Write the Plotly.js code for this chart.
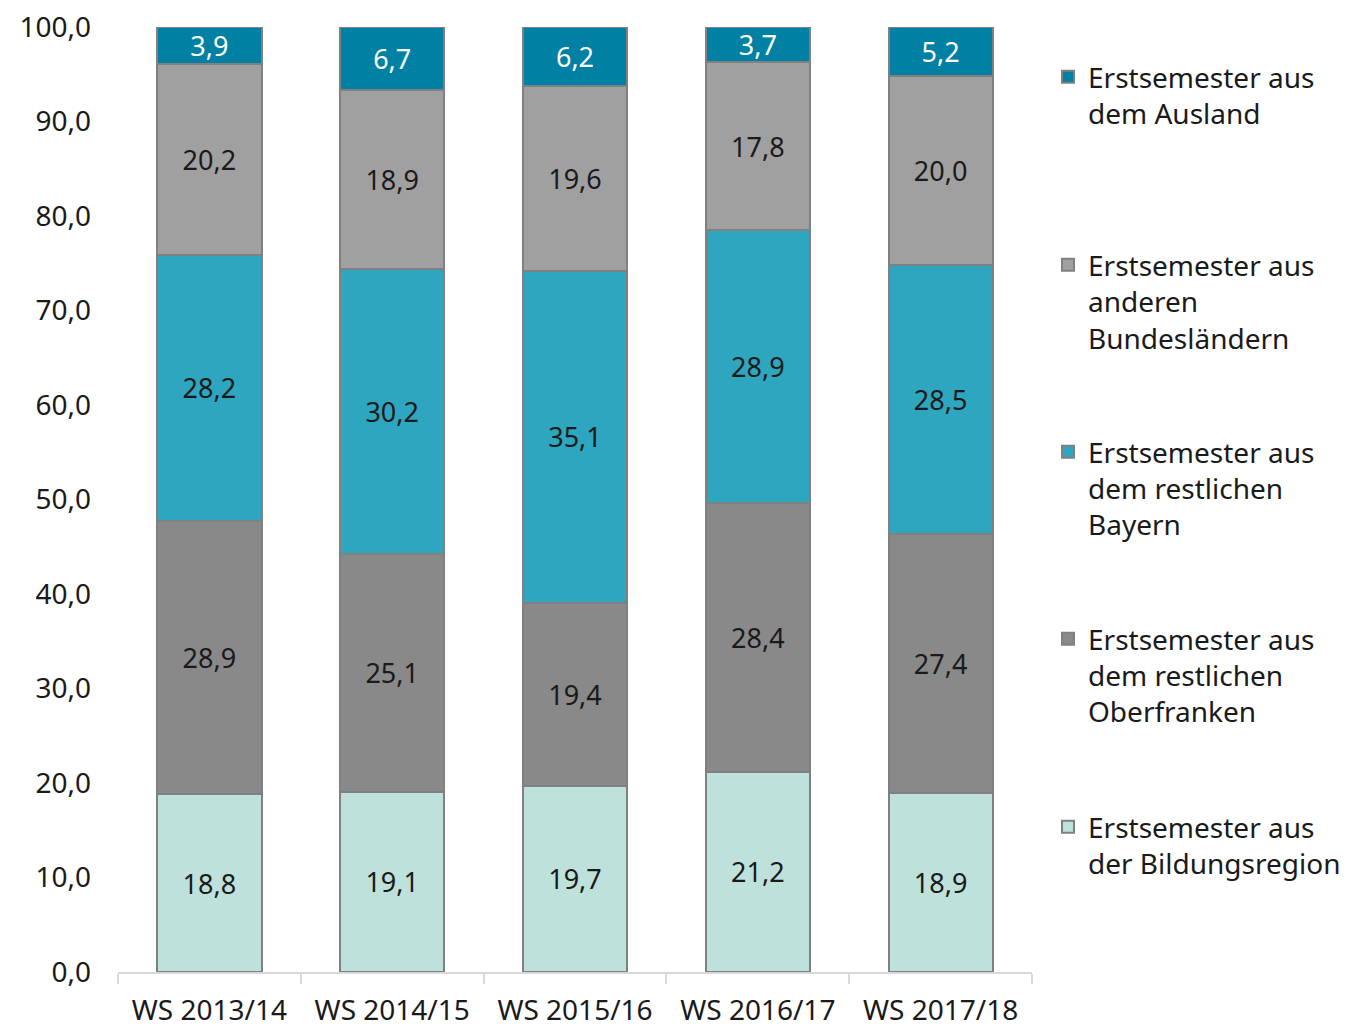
<!DOCTYPE html>
<html>
<head>
<meta charset="utf-8">
<script src="https://cdn.plot.ly/plotly-3.0.1.min.js"></script>
<style>html,body{margin:0;padding:0;background:#fff;}#chart{width:1355px;height:1028px;}</style>
</head>
<body>
<div id="chart"></div>
<script>
const categories = ["WS 2013/14", "WS 2014/15", "WS 2015/16", "WS 2016/17", "WS 2017/18"];
const bildungsregion = [18.8, 19.1, 19.7, 21.2, 18.9];
const oberfranken = [28.9, 25.1, 19.4, 28.4, 27.4];
const bayern = [28.2, 30.2, 35.1, 28.9, 28.5];
const bundeslaender = [20.2, 18.9, 19.6, 17.8, 20.0];
const ausland = [3.9, 6.7, 6.2, 3.7, 5.2];
const yTicks = [0, 10, 20, 30, 40, 50, 60, 70, 80, 90, 100];

const FONT = "Noto Sans, Open Sans, sans-serif";
const series = [
  {name: "Erstsemester aus<br>der Bildungsregion", y: bildungsregion, color: "#bfe1dc", text: "#1a1a1a", legend: "legend5"},
  {name: "Erstsemester aus<br>dem restlichen<br>Oberfranken", y: oberfranken, color: "#898989", text: "#1a1a1a", legend: "legend4"},
  {name: "Erstsemester aus<br>dem restlichen<br>Bayern", y: bayern, color: "#2ea6bf", text: "#1a1a1a", legend: "legend3"},
  {name: "Erstsemester aus<br>anderen<br>Bundesländern", y: bundeslaender, color: "#a0a0a0", text: "#1a1a1a", legend: "legend2"},
  {name: "Erstsemester aus<br>dem Ausland", y: ausland, color: "#0080a3", text: "#ffffff", legend: "legend"}
];

const traces = series.map(s => ({
  type: "bar",
  name: s.name,
  x: categories,
  y: s.y,
  legend: s.legend,
  marker: {color: s.color, line: {color: "#808080", width: 2}},
  texttemplate: "%{y:.1f}",
  textposition: "inside",
  insidetextanchor: "middle",
  constraintext: "none",
  textangle: 0,
  textfont: {family: FONT, size: 27, color: s.text},
  hoverinfo: "skip"
}));

function leg(y) {
  return {x: 1.0175, xanchor: "left", y: y, yanchor: "top", valign: "top",
    font: {family: FONT, size: 28, color: "#1a1a1a"},
    bgcolor: "rgba(0,0,0,0)", borderwidth: 0, itemclick: false, itemdoubleclick: false};
}

const layout = {
  width: 1355, height: 1028,
  margin: {l: 118, r: 323, t: 27, b: 56, pad: 0, autoexpand: false},
  paper_bgcolor: "#ffffff", plot_bgcolor: "#ffffff",
  font: {family: FONT, size: 27, color: "#1a1a1a"},
  barmode: "stack",
  bargap: 0.43,
  showlegend: true,
  xaxis: {
    type: "category", range: [-0.5, 4.5],
    showline: true, linecolor: "#d9d9d9", linewidth: 2,
    ticks: "outside", tickson: "boundaries", ticklen: 10, tickcolor: "#d9d9d9", tickwidth: 2,
    ticklabelstandoff: 12,
    showgrid: false, tickfont: {family: FONT, size: 28, color: "#1a1a1a"}
  },
  yaxis: {
    range: [0, 100], tickvals: yTicks, tickformat: ".1f",
    showgrid: false, zeroline: false, showline: false, ticks: "",
    ticklabelstandoff: 26,
    tickfont: {family: FONT, size: 28, color: "#1a1a1a"}
  },
  separators: ",.",
  legend: leg(0.9735),
  legend2: leg(0.7745),
  legend3: leg(0.5767),
  legend4: leg(0.3788),
  legend5: leg(0.1798)
};

Plotly.newPlot("chart", traces, layout, {displayModeBar: false, staticPlot: true});
</script>
</body>
</html>
